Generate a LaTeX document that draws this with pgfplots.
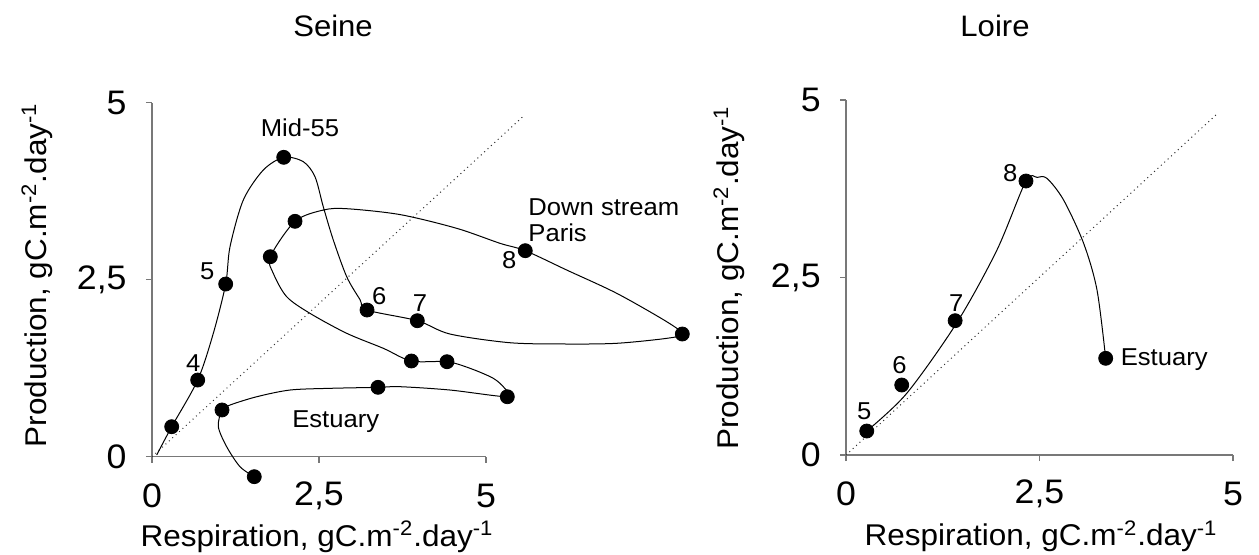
\documentclass[border=0pt]{standalone}
\usepackage{pgfplots}
\pgfplotsset{compat=1.18}
\usepackage{fontspec}
\setmainfont[FakeStretch=1.05]{Liberation Sans}
\definecolor{axgray}{RGB}{120,120,120}
\pgfplotsset{
  myax/.style={
    scale only axis, clip=false,
    xmin=0, xmax=5, ymin=0, ymax=5,
    axis x line=bottom, axis y line=left,
    axis line style={-, draw=axgray, line width=0.6pt},
    xtick={0,2.5,5}, ytick={0,2.5,5},
    xticklabels={0,{2,5},5}, yticklabels={0,{2,5},5},
    tick align=outside, major tick length=3pt,
    tick style={draw=axgray, line width=0.6pt},
    ticklabel style={font=\fontsize{17}{19}\selectfont, inner sep=0pt},
    xticklabel style={anchor=center, yshift=-16.5pt},
    yticklabel style={anchor=east, xshift=-9.5pt},
    label style={font=\fontsize{15}{17}\selectfont, inner sep=0pt},
    title style={font=\fontsize{14.8}{17}\selectfont, anchor=center},
  },
  curve/.style={smooth, black, line width=0.5pt, no markers},
  dots/.style={only marks, mark=*, mark size=3.5pt, black},
  diag/.style={black!80, line width=0.5pt, dash pattern=on 0.5pt off 1.8pt, no markers},
}
\tikzset{ann/.style={font=\fontsize{12.2}{14}\selectfont, inner sep=0pt}}
\begin{document}
\begin{tikzpicture}
\path[use as bounding box] (0,0) rectangle (629.5pt,-277pt);
% ---------------- Seine ----------------
\begin{axis}[myax, at={(76pt,-228.35pt)}, anchor=south west,
  width=167pt, height=177pt,
  title={Seine}, title style={at={(axis description cs:0.542,1.182)}},
  xlabel={Respiration, gC.m\textsuperscript{-2}.day\textsuperscript{-1}},
  xlabel style={at={(axis description cs:0.494,-0.226)}, anchor=center},
  ylabel={Production, gC.m\textsuperscript{-2}.day\textsuperscript{-1}},
  ylabel style={at={(axis description cs:-0.344,0.513)}, anchor=center},
]
\addplot[diag] coordinates {(0,0) (5.56,4.81)};
\addplot[curve] coordinates {
(0.07,0.024) (0.295,0.424) (0.684,1.083) (0.918,1.743) (1.103,2.439)
(1.168,2.966) (1.367,3.626) (1.666,4.049) (1.972,4.229) (2.265,4.167)
(2.440,3.955) (2.564,3.531) (2.714,3.061) (2.915,2.542) (3.114,2.219)
(3.219,2.072) (3.972,1.921) (4.461,1.733) (5.359,1.610) (6.208,1.592)
(6.957,1.602) (7.705,1.672) (7.939,1.733) (7.705,1.907) (6.957,2.308)
(6.208,2.637) (5.588,2.910) (5.21,3.014) (4.561,3.226) (3.713,3.42)
(2.915,3.503) (2.564,3.484) (2.141,3.325) (1.771,2.825) (1.816,2.590)
(2.016,2.26) (2.365,2.025) (2.915,1.743) (3.463,1.531) (3.883,1.352)
(4.416,1.342) (4.76,1.249) (5.11,1.107) (5.28,0.966) (5.319,0.847)
(4.461,0.942) (3.713,0.989) (3.383,0.980) (2.665,0.966) (2.066,0.942)
(1.567,0.847) (1.168,0.730) (1.048,0.660) (0.993,0.424) (1.118,0.141)
(1.317,-0.141) (1.531,-0.282)
};
\addplot[dots] coordinates {
(0.295,0.424) (0.684,1.083) (1.103,2.439) (1.972,4.229) (3.219,2.072)
(3.972,1.921) (7.939,1.733) (5.588,2.910) (2.141,3.325) (1.771,2.825)
(3.883,1.352) (4.416,1.342) (5.319,0.847) (3.383,0.980) (1.048,0.660)
(1.531,-0.282)
};
\node[ann, anchor=center] at (axis cs:2.216,4.643) {Mid-55};
\node[ann, anchor=center] at (axis cs:0.828,2.613) {5};
\node[ann, anchor=center] at (axis cs:0.618,1.319) {4};
\node[ann, anchor=center] at (axis cs:3.403,2.270) {6};
\node[ann, anchor=center] at (axis cs:4.012,2.175) {7};
\node[ann, anchor=center] at (axis cs:5.349,2.778) {8};
\node[ann, anchor=west] at (axis cs:5.629,3.527) {Down stream};
\node[ann, anchor=west] at (axis cs:5.629,3.160) {Paris};
\node[ann, anchor=center] at (axis cs:2.750,0.490) {Estuary};
\end{axis}
% ---------------- Loire ----------------
\begin{axis}[myax, at={(423pt,-227.5pt)}, anchor=south west,
  width=193.5pt, height=177.5pt,
  title={Loire}, title style={at={(axis description cs:0.385,1.174)}},
  xlabel={Respiration, gC.m\textsuperscript{-2}.day\textsuperscript{-1}},
  xlabel style={at={(axis description cs:0.504,-0.229)}, anchor=center},
  ylabel={Production, gC.m\textsuperscript{-2}.day\textsuperscript{-1}},
  ylabel style={at={(axis description cs:-0.302,0.499)}, anchor=center},
]
\addplot[diag] coordinates {(0,0) (4.80,4.81)};
\addplot[curve] coordinates {
(0.268,0.338) (0.785,0.869) (1.436,1.87) (1.950,2.887) (2.325,3.86)
(2.47,3.91) (2.596,3.897) (2.811,3.592) (3.070,2.982) (3.243,2.324)
(3.355,1.362)
};
\addplot[dots] coordinates {
(0.268,0.338) (0.720,0.986) (1.410,1.892) (2.325,3.859) (3.355,1.362)
};
\node[ann, anchor=center] at (axis cs:0.237,0.610) {5};
\node[ann, anchor=center] at (axis cs:0.690,1.268) {6};
\node[ann, anchor=center] at (axis cs:1.423,2.137) {7};
\node[ann, anchor=center] at (axis cs:2.122,3.968) {8};
\node[ann, anchor=west] at (axis cs:3.545,1.338) {Estuary};
\end{axis}
\end{tikzpicture}
\end{document}
